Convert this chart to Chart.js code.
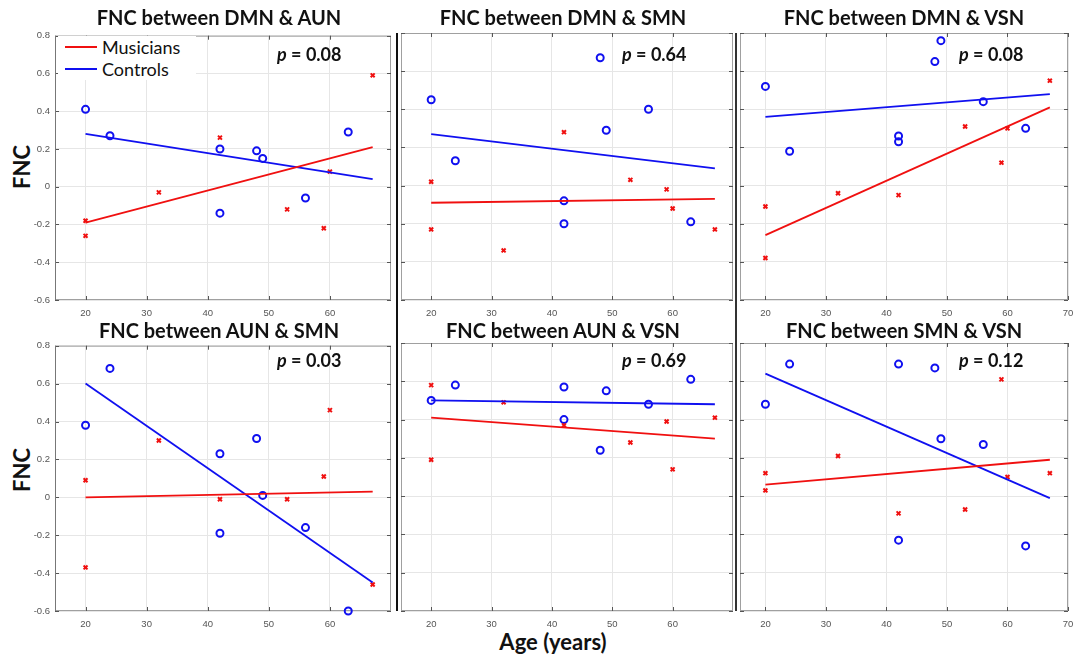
<!DOCTYPE html>
<html lang="en">
<head>
<meta charset="UTF-8">
<title>FNC vs Age</title>
<script src="https://cdn.jsdelivr.net/npm/chart.js"></script>
<style>
    body { margin: 0; width: 1079px; height: 662px; background: #fff; position: relative; overflow: hidden; font-family: Lato, 'Open Sans', sans-serif; color: #111; }
    canvas { position: absolute; }
    .ptitle { position: absolute; font-weight: 700; font-size: 20px; line-height: 1; transform: translate(-50%, -50%); white-space: nowrap; }
    .pval { position: absolute; font-weight: 700; font-size: 18px; line-height: 1; transform: translateY(-50%); white-space: nowrap; }
    .ylab { position: absolute; font-weight: 700; font-size: 22px; line-height: 1; transform: translate(-50%, -50%) rotate(-90deg); }
    .xlab { position: absolute; font-weight: 700; font-size: 22px; line-height: 1; transform: translate(-50%, -50%); white-space: nowrap; }
    .legend { position: absolute; left: 58px; top: 36px; width: 138px; background: #fff; z-index: 2; }
    .legend-row { height: 22px; display: flex; align-items: center; font-size: 18px; }
    .legend-row span { display: inline-block; width: 32px; height: 2px; margin: 0 5px 0 7px; }
    .sep { position: absolute; top: 33px; height: 578px; background: #111; z-index: 1; }
</style>
</head>
<body>
<div class="legend">
    <div class="legend-row"><span style="background:#f01010"></span>Musicians</div>
    <div class="legend-row"><span style="background:#1010f0"></span>Controls</div>
</div>
<div class="ylab" style="left:22px; top:167px;">FNC</div>
<div class="ylab" style="left:22px; top:470px;">FNC</div>
<div class="xlab" style="left:553px; top:642px;">Age (years)</div>
<div class="sep" style="left:396px; width:2px;"></div>
<div class="sep" style="left:735px; width:1.5px; background:#333;"></div>
<script>
// ages of the subjects (x values)
const ageMusicians = [20, 20, 32, 42, 53, 59, 60, 67];
const ageControls = [20, 24, 42, 42, 48, 49, 56, 63];
const fitAges = [20, 67];

const panelTitles = [
    'FNC between DMN & AUN', 'FNC between DMN & SMN', 'FNC between DMN & VSN',
    'FNC between AUN & SMN', 'FNC between AUN & VSN', 'FNC between SMN & VSN'
];
const pValues = ['0.08', '0.64', '0.08', '0.03', '0.69', '0.12'];

// FNC values per panel
const musDmnAun = [-0.18, -0.26, -0.03, 0.26, -0.12, -0.22, 0.08, 0.59];
const conDmnAun = [0.41, 0.27, 0.20, -0.14, 0.19, 0.15, -0.06, 0.29];
const fitMusDmnAun = [-0.19, 0.21];
const fitConDmnAun = [0.28, 0.04];

const musDmnSmn = [0.02, -0.23, -0.34, 0.28, 0.03, -0.02, -0.12, -0.23];
const conDmnSmn = [0.45, 0.13, -0.08, -0.20, 0.67, 0.29, 0.40, -0.19];
const fitMusDmnSmn = [-0.09, -0.07];
const fitConDmnSmn = [0.27, 0.09];

const musDmnVsn = [-0.11, -0.38, -0.04, -0.05, 0.31, 0.12, 0.30, 0.55];
const conDmnVsn = [0.52, 0.18, 0.26, 0.23, 0.65, 0.76, 0.44, 0.30];
const fitMusDmnVsn = [-0.26, 0.41];
const fitConDmnVsn = [0.36, 0.48];

const musAunSmn = [0.09, -0.37, 0.30, -0.01, -0.01, 0.11, 0.46, -0.46];
const conAunSmn = [0.38, 0.68, 0.23, -0.19, 0.31, 0.01, -0.16, -0.60];
const fitMusAunSmn = [0.00, 0.03];
const fitConAunSmn = [0.60, -0.45];

const musAunVsn = [0.58, 0.19, 0.49, 0.37, 0.28, 0.39, 0.14, 0.41];
const conAunVsn = [0.50, 0.58, 0.57, 0.40, 0.24, 0.55, 0.48, 0.61];
const fitMusAunVsn = [0.41, 0.30];
const fitConAunVsn = [0.50, 0.48];

const musSmnVsn = [0.12, 0.03, 0.21, -0.09, -0.07, 0.61, 0.10, 0.12];
const conSmnVsn = [0.48, 0.69, 0.69, -0.23, 0.67, 0.30, 0.27, -0.26];
const fitMusSmnVsn = [0.06, 0.19];
const fitConSmnVsn = [0.64, -0.01];

const yTicks = [-0.6, -0.4, -0.2, 0, 0.2, 0.4, 0.6, 0.8];
const xTicksInner = [20, 30, 40, 50, 60];
const xTicksLast = [20, 30, 40, 50, 60, 70];

const panels = [
    { mus: musDmnAun, con: conDmnAun, fitMus: fitMusDmnAun, fitCon: fitConDmnAun },
    { mus: musDmnSmn, con: conDmnSmn, fitMus: fitMusDmnSmn, fitCon: fitConDmnSmn },
    { mus: musDmnVsn, con: conDmnVsn, fitMus: fitMusDmnVsn, fitCon: fitConDmnVsn },
    { mus: musAunSmn, con: conAunSmn, fitMus: fitMusAunSmn, fitCon: fitConAunSmn },
    { mus: musAunVsn, con: conAunVsn, fitMus: fitMusAunVsn, fitCon: fitConAunVsn },
    { mus: musSmnVsn, con: conSmnVsn, fitMus: fitMusSmnVsn, fitCon: fitConSmnVsn }
];

// layout of the grid (page pixels)
const cols = [
    { l: 55, r: 394, xMin: 15, title: 219, p: 277 },
    { l: 397, r: 736, xMin: 15, title: 563, p: 622 },
    { l: 736, r: 1068, xMin: 15.8, title: 904, p: 959 }
];
const rows = [
    { t: 33, b: 300, title: 17, p: 54 },
    { t: 343, b: 611, title: 330, p: 360 }
];

const RED = '#f01010';
const BLUE = '#1010f0';

const boxPlugin = {
    id: 'box',
    beforeDatasetsDraw(chart, args, opts) {
        const { ctx, chartArea: a, scales } = chart;
        ctx.save();
        ctx.lineWidth = 1;
        ctx.strokeStyle = '#a0a0a0';
        ctx.strokeRect(a.left + 0.5, a.top + 0.5, a.right - a.left - 1, a.bottom - a.top - 1);
        ctx.strokeStyle = '#555';
        ctx.beginPath();
        scales.x.ticks.forEach(t => {
            const px = Math.round(scales.x.getPixelForValue(t.value)) + 0.5;
            ctx.moveTo(px, a.bottom); ctx.lineTo(px, a.bottom - 4);
            ctx.moveTo(px, a.top); ctx.lineTo(px, a.top + 4);
        });
        scales.y.ticks.forEach(t => {
            const py = Math.round(scales.y.getPixelForValue(t.value)) + 0.5;
            ctx.moveTo(a.left, py); ctx.lineTo(a.left + 4, py);
            ctx.moveTo(a.right, py); ctx.lineTo(a.right - 4, py);
        });
        ctx.stroke();
        if (opts.left) {
            ctx.strokeStyle = opts.left;
            ctx.beginPath();
            ctx.moveTo(a.left + 0.5, a.top); ctx.lineTo(a.left + 0.5, a.bottom);
            ctx.stroke();
        }
        ctx.restore();
    }
};

function makePanel(i) {
    const col = cols[i % 3], row = rows[Math.floor(i / 3)];
    const first = i % 3 === 0, last = i % 3 === 2;
    const pd = panels[i];
    const yW = first ? 45 : 2;
    const padR = last ? 14 : 3;
    const padT = 8, xH = 26;
    const left = col.l - yW, top = row.t - padT;
    const cv = document.createElement('canvas');
    cv.width = col.r + padR - left;
    cv.height = row.b + xH - top;
    cv.style.left = left + 'px';
    cv.style.top = top + 'px';
    document.body.appendChild(cv);

    const t = document.createElement('div');
    t.className = 'ptitle';
    t.textContent = panelTitles[i];
    t.style.left = col.title + 'px';
    t.style.top = row.title + 'px';
    document.body.appendChild(t);

    const p = document.createElement('div');
    p.className = 'pval';
    p.innerHTML = '<i>p</i> = ' + pValues[i];
    p.style.left = col.p + 'px';
    p.style.top = row.p + 'px';
    document.body.appendChild(p);

    const tickFont = { family: 'Liberation Sans', size: 9.5 };
    new Chart(cv, {
        type: 'scatter',
        data: {
            datasets: [
                { type: 'line', data: fitAges.map((x, k) => ({ x, y: pd.fitMus[k] })), borderColor: RED, borderWidth: 1.8, pointRadius: 0, clip: false },
                { type: 'line', data: fitAges.map((x, k) => ({ x, y: pd.fitCon[k] })), borderColor: BLUE, borderWidth: 1.8, pointRadius: 0, clip: false },
                { data: ageMusicians.map((x, k) => ({ x, y: pd.mus[k] })), pointStyle: 'crossRot', pointRadius: 2.8, borderColor: RED, borderWidth: 2, clip: false },
                { data: ageControls.map((x, k) => ({ x, y: pd.con[k] })), pointStyle: 'circle', pointRadius: 3.5, borderColor: BLUE, backgroundColor: 'rgba(0,0,0,0)', borderWidth: 2, clip: false }
            ]
        },
        options: {
            responsive: false,
            animation: false,
            devicePixelRatio: 1,
            layout: { padding: { left: 0, right: padR, top: padT, bottom: 0 } },
            plugins: { legend: { display: false }, tooltip: { enabled: false }, box: { left: first ? '#777' : null } },
            scales: {
                x: {
                    type: 'linear', min: col.xMin, max: 70,
                    afterBuildTicks: s => { s.ticks = (last ? xTicksLast : xTicksInner).map(v => ({ value: v })); },
                    afterFit: s => { s.height = xH; },
                    grid: { color: '#e6e6e6', drawTicks: false },
                    border: { display: false },
                    ticks: { padding: 8, font: tickFont, color: '#555', maxRotation: 0, autoSkip: false }
                },
                y: {
                    min: -0.6, max: 0.8,
                    afterBuildTicks: s => { s.ticks = yTicks.map(v => ({ value: v })); },
                    afterFit: s => { s.width = yW; },
                    grid: { color: '#e6e6e6', drawTicks: false },
                    border: { display: false },
                    ticks: { display: first, padding: 5, font: tickFont, color: '#555', autoSkip: false,
                        callback: v => v === 0 ? '0' : v.toFixed(1) }
                }
            }
        },
        plugins: [boxPlugin]
    });
}

for (let i = 0; i < 6; i++) makePanel(i);
</script>
</body>
</html>
